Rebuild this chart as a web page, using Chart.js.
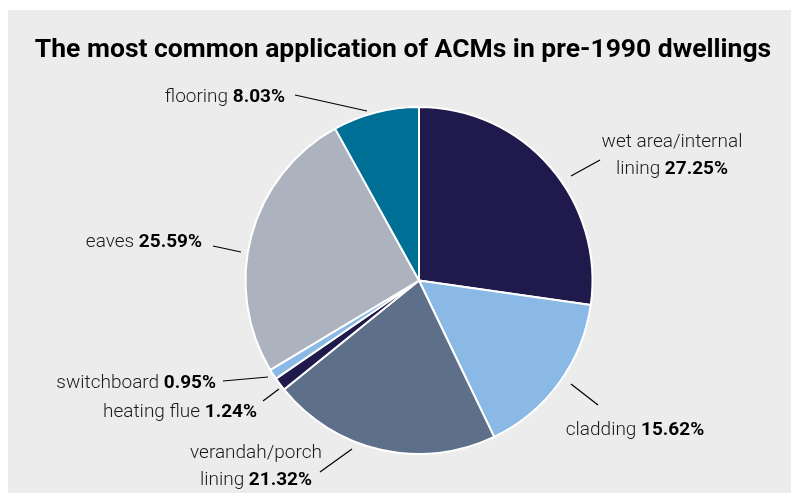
<!DOCTYPE html>
<html>
<head>
<meta charset="utf-8">
<script src="https://cdn.jsdelivr.net/npm/chart.js@4/dist/chart.umd.min.js"></script>
<style>
  html, body { margin: 0; padding: 0; background: #ffffff; }
  #wrap {
    position: absolute;
    left: 8px;
    top: 10px;
    width: 783px;
    height: 483px;
    background: #ececec;
  }
</style>
</head>
<body>
<div id="wrap"><canvas id="chart"></canvas></div>
<script>
const title = 'The most common application of ACMs in pre-1990 dwellings'
const categories = [
  'wet area/internal lining',
  'cladding',
  'verandah/porch lining',
  'heating flue',
  'switchboard',
  'eaves',
  'flooring'
]
const shares = [27.25, 15.62, 21.32, 1.24, 0.95, 25.59, 8.03]
const colors = ['#1f1a4b', '#89b9e4', '#5e7089', '#1f1a4b', '#89b9e4', '#adb2bf', '#006f96']

// label text lines (name part, value part) for each slice
const labelLines = [
  [['wet area/internal', ''], ['lining ', '27.25%']],
  [['cladding ', '15.62%']],
  [['verandah/porch', ''], ['lining ', '21.32%']],
  [['heating flue ', '1.24%']],
  [['switchboard ', '0.95%']],
  [['eaves ', '25.59%']],
  [['flooring ', '8.03%']]
]

// leader line + text placement, relative to the pie centre
const labelLayout = [
  {line: [152, -104.5, 181, -120.5], tx: 253, ty: -138.5, align: 'center'},
  {line: [152, 103.5, 179, 124.5], tx: 216, ty: 149.5, align: 'center'},
  {line: [-67, 168.5, -99, 191.5], tx: -163, ty: 172.5, align: 'center'},
  {line: [-140, 108.5, -156, 120.5], tx: -162, ty: 131.5, align: 'right'},
  {line: [-151, 96.5, -196, 100.5], tx: -203, ty: 102.5, align: 'right'},
  {line: [-178, -28.5, -206, -34.5], tx: -217, ty: -38.5, align: 'right'},
  {line: [-52, -169.5, -124, -185.5], tx: -134, ty: -183.5, align: 'right'}
]

const lightFont = '300 19px Roboto'
const boldFont = '700 19px Roboto'
const lineGap = 27

const calloutPlugin = {
  id: 'callouts',
  afterDatasetsDraw(chart) {
    const ctx = chart.ctx
    const arc = chart.getDatasetMeta(0).data[0]
    if (!arc) return
    const cx = arc.x
    const cy = arc.y

    ctx.save()
    // title
    ctx.font = '700 26.5px Roboto'
    ctx.fillStyle = '#000000'
    ctx.textAlign = 'center'
    ctx.textBaseline = 'alphabetic'
    ctx.fillText(title, 395, 47)

    ctx.textAlign = 'left'
    ctx.textBaseline = 'middle'
    labelLayout.forEach((lay, i) => {
      const [x1, y1, x2, y2] = lay.line
      ctx.strokeStyle = '#000000'
      ctx.lineWidth = 1.2
      ctx.beginPath()
      ctx.moveTo(cx + x1, cy + y1)
      ctx.lineTo(cx + x2, cy + y2)
      ctx.stroke()

      labelLines[i].forEach((parts, j) => {
        ctx.font = lightFont
        const w1 = ctx.measureText(parts[0]).width
        ctx.font = boldFont
        const w2 = ctx.measureText(parts[1]).width
        const total = w1 + w2
        let x = cx + lay.tx
        if (lay.align === 'center') x -= total / 2
        else if (lay.align === 'right') x -= total
        const y = cy + lay.ty + j * lineGap
        ctx.fillStyle = '#1a1a1a'
        ctx.font = lightFont
        ctx.fillText(parts[0], x, y)
        ctx.fillStyle = '#000000'
        ctx.font = boldFont
        ctx.fillText(parts[1], x + w1, y)
      })
    })
    ctx.restore()
  }
}

new Chart(document.getElementById('chart'), {
  type: 'pie',
  data: {
    labels: categories,
    datasets: [{
      data: shares,
      backgroundColor: colors,
      borderColor: '#ffffff',
      borderWidth: 2
    }]
  },
  options: {
    responsive: true,
    maintainAspectRatio: false,
    animation: false,
    layout: {
      padding: {top: 96, bottom: 38, left: 39, right: 0}
    },
    plugins: {
      legend: {display: false},
      title: {display: false},
      tooltip: {enabled: false}
    }
  },
  plugins: [calloutPlugin]
})
</script>
</body>
</html>
